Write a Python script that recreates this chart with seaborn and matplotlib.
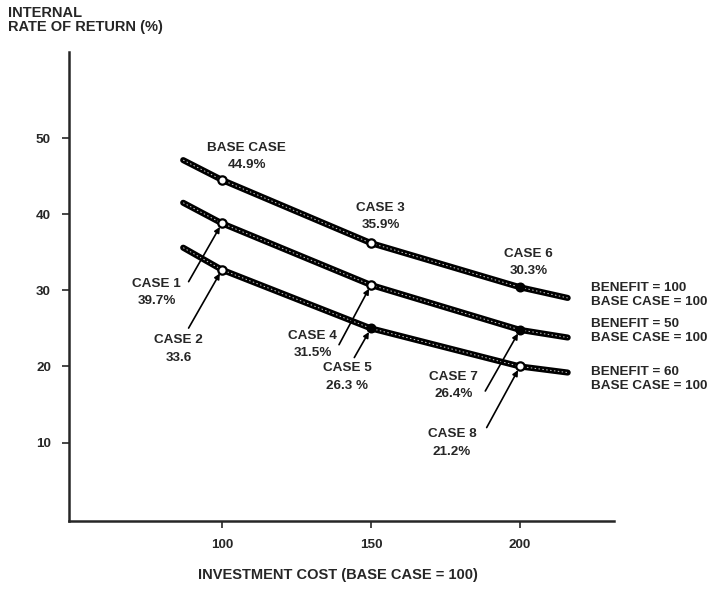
import numpy as np
import pandas as pd
import matplotlib
matplotlib.use('Agg')
import matplotlib.pyplot as plt
import seaborn as sns

# values
cost = [87, 100, 150, 200, 216]
irr_benefit_100 = [47.1, 44.5, 36.2, 30.4, 29.0]
irr_benefit_50 = [41.5, 38.8, 30.7, 24.8, 23.8]
irr_benefit_60 = [35.6, 32.7, 25.0, 20.0, 19.2]
curve_labels = ['BENEFIT = 100\nBASE CASE = 100',
                'BENEFIT = 50\nBASE CASE = 100',
                'BENEFIT = 60\nBASE CASE = 100']

case_names = ['BASE CASE', 'CASE 3', 'CASE 6',
              'CASE 1', 'CASE 4', 'CASE 7',
              'CASE 2', 'CASE 5', 'CASE 8']
case_values = ['44.9%', '35.9%', '30.3%',
               '39.7%', '31.5%', '26.4%',
               '33.6', '26.3 %', '21.2%']

sns.set_style('ticks')
plt.rcParams['font.family'] = ['Liberation Sans', 'DejaVu Sans']

curves = [irr_benefit_100, irr_benefit_50, irr_benefit_60]
df = pd.concat([pd.DataFrame({'cost': cost, 'irr': c, 'curve': i})
                for i, c in enumerate(curves)])

# case points sit on the curves at 100, 150 and 200
cases = pd.DataFrame({
    'name': case_names,
    'value': case_values,
    'cost': [cost[j] for i in range(3) for j in (1, 2, 3)],
    'irr': [curves[i][j] for i in range(3) for j in (1, 2, 3)],
})
filled = [False, False, True, False, False, True, False, True, False]

fig = plt.figure(figsize=(7.13, 5.93), dpi=100)
ax = fig.add_axes([0.0968, 0.1214, 0.7642, 0.7909])

sns.lineplot(data=df, x='cost', y='irr', hue='curve', palette=['black'] * 3,
             lw=4.4, legend=False, ax=ax, estimator=None, sort=False)
# speckled look of the printed curves
for c in curves:
    ax.plot(cost, c, color='white', lw=0.7, dashes=(1.5, 2.5), alpha=0.8)

sns.scatterplot(data=cases[[not f for f in filled]], x='cost', y='irr',
                s=36, color='white', edgecolor='black', linewidth=1.6,
                zorder=5, ax=ax, legend=False)
sns.scatterplot(data=cases[filled], x='cost', y='irr',
                s=36, color='black', edgecolor='black', linewidth=1.2,
                zorder=5, ax=ax, legend=False)

fs = 9.7
txt = dict(fontsize=fs, fontweight='bold', ha='center', va='center',
           linespacing=1.6, textcoords='offset points')

# labels above the top curve (no arrows)
for k, off in zip(range(3), [(18, 17), (7, 19), (6, 18)]):
    r = cases.iloc[k]
    ax.annotate(f"{r['name']}\n{r['value']}", (r['cost'], r['irr']),
                xytext=off, **txt)

# labels below with arrows: (text offset, arrow tail offset)
arrow_pos = {
    'CASE 1': ((-47, -50), (-24, -42)),
    'CASE 4': ((-42, -43), (-23, -43)),
    'CASE 7': ((-48, -40), (-25, -44)),
    'CASE 2': ((-31, -57), (-24, -42)),
    'CASE 5': ((-17, -35), (-12, -21)),
    'CASE 8': ((-49, -55), (-24, -44)),
}
for _, r in cases.iloc[3:].iterrows():
    t_off, a_off = arrow_pos[r['name']]
    ax.annotate(f"{r['name']}\n{r['value']}", (r['cost'], r['irr']),
                xytext=t_off, **txt)
    ax.annotate('', (r['cost'], r['irr']), xytext=a_off,
                textcoords='offset points',
                arrowprops=dict(arrowstyle='-|>', color='black', lw=1.2,
                                mutation_scale=8, shrinkA=0, shrinkB=3))

# curve captions at the right
for lab, yf in zip(curve_labels, [295, 331, 379]):
    fig.text(591 / 713, 1 - yf / 593, lab, fontsize=fs, fontweight='bold',
             ha='left', va='center', linespacing=1.15)

ax.set_xlim(48.7, 231.5)
ax.set_ylim(-0.3, 61.3)
ax.set_xticks([100, 150, 200])
ax.set_yticks([10, 20, 30, 40, 50])
ax.tick_params(axis='both', length=5, width=1.2, labelsize=fs, pad=8)
for lbl in ax.get_xticklabels() + ax.get_yticklabels():
    lbl.set_fontweight('bold')
sns.despine(ax=ax)
ax.spines['left'].set_linewidth(1.8)
ax.spines['bottom'].set_linewidth(1.8)
ax.set_xlabel('')
ax.set_ylabel('')

fig.text(8 / 713, 1 - 20 / 593, 'INTERNAL\nRATE OF RETURN (%)', fontsize=10.5,
         fontweight='bold', ha='left', va='center', linespacing=0.95)
fig.text(338 / 713, 1 - 575 / 593, 'INVESTMENT COST (BASE CASE = 100)',
         fontsize=10.5, fontweight='bold', ha='center', va='center')

fig.savefig('out.png', dpi=100)
